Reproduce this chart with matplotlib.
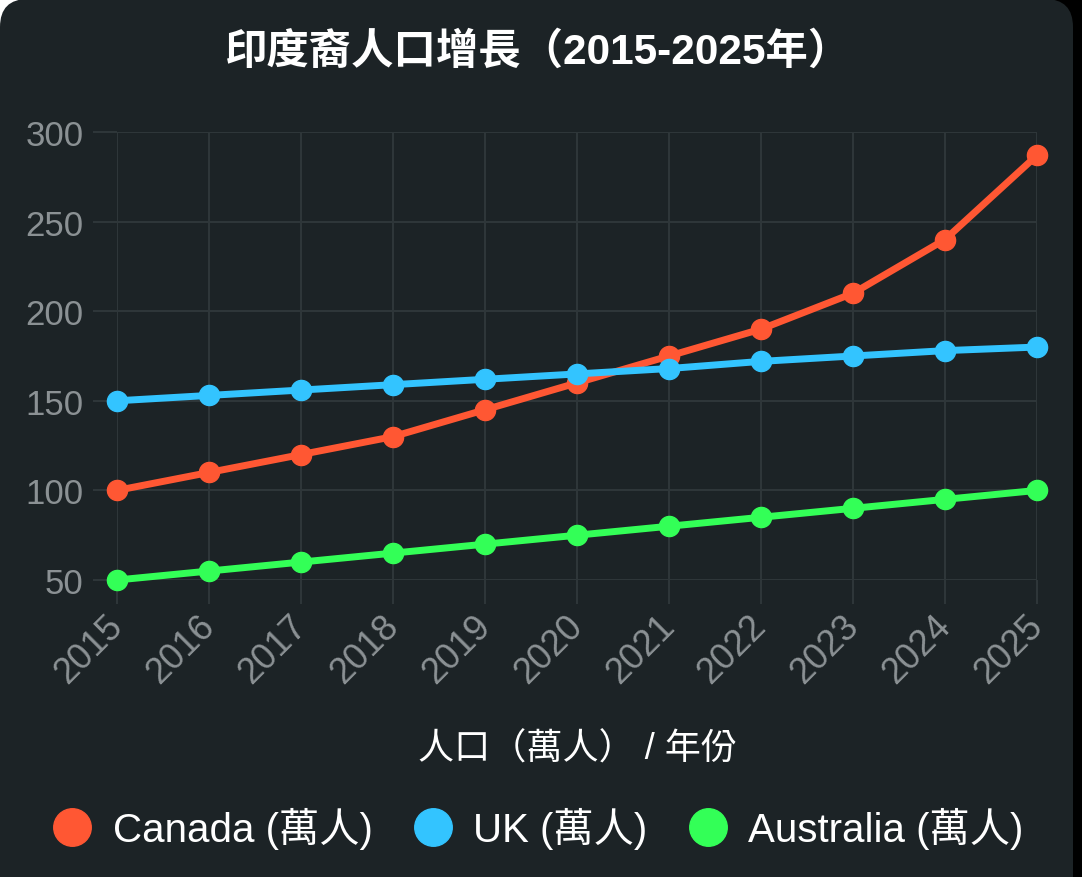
#!/usr/bin/env python

import matplotlib
matplotlib.use('Agg')
import matplotlib.pyplot as plt
from matplotlib.lines import Line2D
from matplotlib.patches import FancyBboxPatch, Rectangle

years = [2015, 2016, 2017, 2018, 2019, 2020, 2021, 2022, 2023, 2024, 2025]
canada = [100, 110, 120, 130, 145, 160, 175, 190, 210, 240, 287]
uk = [150, 153, 156, 159, 162, 165, 168, 172, 175, 178, 180]
australia = [50, 55, 60, 65, 70, 75, 80, 85, 90, 95, 100]
y_ticks = [50, 100, 150, 200, 250, 300]

series_labels = ['Canada (萬人)', 'UK (萬人)', 'Australia (萬人)']
colors = ['#FF5733', '#33C4FF', '#33FF57']
title = '印度裔人口增長（2015-2025年）'
x_label = '人口（萬人） / 年份'

BG = '#1c2326'
GRID = '#2e3639'
TICK = '#8b9194'

plt.rcParams['font.family'] = ['Liberation Sans', 'Noto Sans CJK TC', 'DejaVu Sans']


def create_plot():
    fig = plt.figure(figsize=(10.82, 8.78), dpi=100, facecolor='black')

    # card background with rounded corners
    fig.patches.append(Rectangle((0, 838), 40, 40, transform=None, zorder=-20,
                                 facecolor='white', edgecolor='none'))
    fig.patches.append(FancyBboxPatch((0, -60), 1073, 938, transform=None,
                                      boxstyle='round,pad=0,rounding_size=28',
                                      facecolor=BG, edgecolor='none', zorder=-10))

    ax = fig.add_axes([117 / 1082, 1 - 581 / 878, 920 / 1082, 448 / 878])
    ax.set_facecolor(BG)

    for vals, col, lab in zip([canada, uk, australia], colors, series_labels):
        ax.plot(years, vals, color=col, lw=5, marker='o', ms=14.5,
                label=lab, clip_on=False, solid_capstyle='round', zorder=3)

    ax.set_xlim(years[0], years[-1])
    ax.set_ylim(50, 300)
    ax.set_xticks(years)
    ax.set_yticks(y_ticks)
    ax.set_xticklabels([str(y) for y in years], rotation=45, ha='right',
                       va='center', rotation_mode='anchor')
    ax.grid(True, color=GRID, lw=1.5)
    for s in ax.spines.values():
        s.set_visible(False)
    ax.tick_params(axis='both', colors=GRID, width=1.5, length=17)
    ax.tick_params(axis='y', labelcolor=TICK, labelsize=25, pad=7)
    ax.tick_params(axis='x', labelcolor=TICK, labelsize=26, pad=12)

    ax.set_xlabel(x_label, color='white', fontsize=26, labelpad=30)

    fig.text(538 / 1082, 1 - 52 / 878, title, color='white', fontsize=30.5,
             fontweight='bold', ha='center', va='center')

    handles = [Line2D([], [], ls='none', marker='o', ms=27, color=c)
               for c in colors]
    fig.legend(handles, series_labels, loc='center', ncol=3,
               bbox_to_anchor=(538 / 1082, 1 - 829 / 878), frameon=False,
               fontsize=29, labelcolor='white', handletextpad=0.5,
               columnspacing=1.0, handlelength=1.0)

    fig.savefig('out.png', dpi=100, facecolor=fig.get_facecolor())


if __name__ == "__main__":
    create_plot()
